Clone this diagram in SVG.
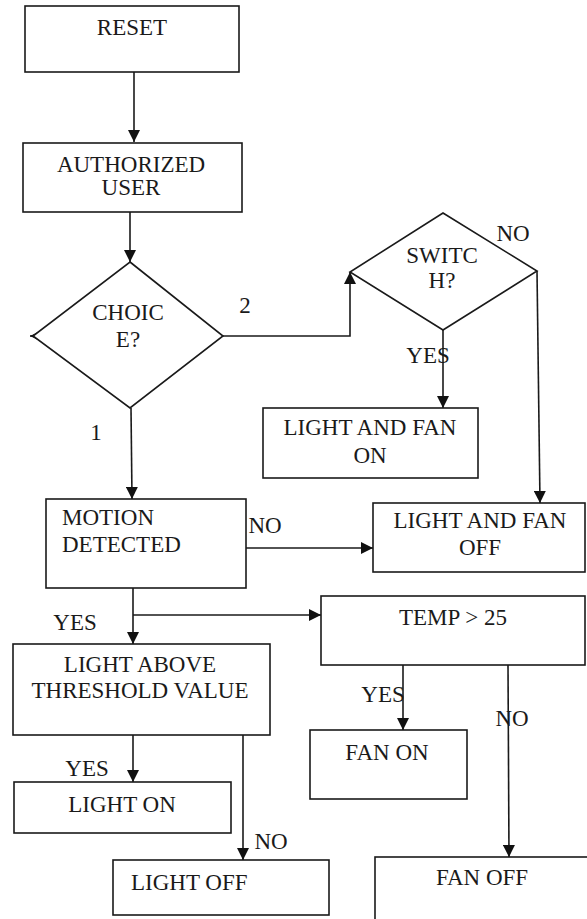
<svg xmlns="http://www.w3.org/2000/svg" width="587" height="919" viewBox="0 0 587 919">
<style>
.box{fill:#fff;stroke:#1a1a1a;stroke-width:1.6}
.t{font-family:'Liberation Serif','DejaVu Serif',serif;font-size:23px;fill:#1a1a1a}
.c{text-anchor:middle}
.ln{fill:none;stroke:#1a1a1a;stroke-width:1.6}
</style>
<defs>
<marker id="ah" markerUnits="userSpaceOnUse" markerWidth="12" markerHeight="12" viewBox="0 0 10 10" refX="10" refY="5" orient="auto">
<path d="M0,0 L10,5 L0,10 z" fill="#111"/>
</marker>
</defs>
<rect width="587" height="919" fill="#fff"/>
<g id="connectors">
<path class="ln" d="M134 72 L134 142" marker-end="url(#ah)"/>
<path class="ln" d="M130 212 L130 262" marker-end="url(#ah)"/>
<path class="ln" d="M42 336 L30 336" marker-end="url(#ah)"/>
<path class="ln" d="M223 336 L350 336 L350 272" marker-end="url(#ah)"/>
<path class="ln" d="M443 330 L443 408" marker-end="url(#ah)"/>
<path class="ln" d="M537 271 L540 503" marker-end="url(#ah)"/>
<path class="ln" d="M131 408 L132 499" marker-end="url(#ah)"/>
<path class="ln" d="M246 548 L373 548" marker-end="url(#ah)"/>
<path class="ln" d="M133 588 L133 644" marker-end="url(#ah)"/>
<path class="ln" d="M133 615 L321 615" marker-end="url(#ah)"/>
<path class="ln" d="M403 665 L403 730" marker-end="url(#ah)"/>
<path class="ln" d="M508 665 L509 857" marker-end="url(#ah)"/>
<path class="ln" d="M133 735 L133 782" marker-end="url(#ah)"/>
<path class="ln" d="M243 735 L243 860" marker-end="url(#ah)"/>
<text class="t" x="245" y="313" text-anchor="middle">2</text>
<text class="t" x="96" y="440" text-anchor="middle">1</text>
<text class="t" x="513" y="241" text-anchor="middle">NO</text>
<text class="t" x="428" y="363" text-anchor="middle">YES</text>
<text class="t" x="265" y="533" text-anchor="middle">NO</text>
<text class="t" x="75" y="630" text-anchor="middle">YES</text>
<text class="t" x="383" y="702" text-anchor="middle">YES</text>
<text class="t" x="512" y="726" text-anchor="middle">NO</text>
<text class="t" x="87" y="776" text-anchor="middle">YES</text>
<text class="t" x="271" y="849" text-anchor="middle">NO</text>
</g>
<g id="reset"><rect class="box" x="25" y="6" width="214" height="66"/><text class="t c" x="132" y="35">RESET</text></g>
<g id="auth"><rect class="box" x="23" y="143" width="219" height="69"/><text class="t c" x="131" y="172">AUTHORIZED</text><text class="t c" x="131" y="195">USER</text></g>
<g id="choice"><polygon class="box" points="130,262 223,336 130,408 33,336"/><text class="t c" x="128" y="320">CHOIC</text><text class="t c" x="128" y="347">E?</text></g>
<g id="switch"><polygon class="box" points="443,213 537,271 443,330 350,272"/><text class="t c" x="442" y="263">SWITC</text><text class="t c" x="442" y="288">H?</text></g>
<g id="lafon"><rect class="box" x="263" y="408" width="215" height="70"/><text class="t c" x="370" y="435">LIGHT AND FAN</text><text class="t c" x="370" y="463">ON</text></g>
<g id="laffoff"><rect class="box" x="373" y="503" width="212" height="69"/><text class="t c" x="480" y="528">LIGHT AND FAN</text><text class="t c" x="480" y="555">OFF</text></g>
<g id="motion"><rect class="box" x="46" y="499" width="200" height="89"/><text class="t" x="62" y="525">MOTION</text><text class="t" x="62" y="552">DETECTED</text></g>
<g id="temp"><rect class="box" x="321" y="596" width="264" height="69"/><text class="t c" x="453" y="625">TEMP &gt; 25</text></g>
<g id="lightabove"><rect class="box" x="13" y="644" width="257" height="91"/><text class="t c" x="140" y="672">LIGHT ABOVE</text><text class="t c" x="140" y="698">THRESHOLD VALUE</text></g>
<g id="fanon"><rect class="box" x="310" y="730" width="157" height="69"/><text class="t c" x="387" y="760">FAN ON</text></g>
<g id="lighton"><rect class="box" x="14" y="782" width="217" height="51"/><text class="t c" x="122" y="812">LIGHT ON</text></g>
<g id="lightoff"><rect class="box" x="113" y="860" width="216" height="55"/><text class="t" x="131" y="890">LIGHT OFF</text></g>
<g id="fanoff"><rect class="box" x="375" y="857" width="230" height="80"/><text class="t c" x="482" y="885">FAN OFF</text></g>
</svg>
